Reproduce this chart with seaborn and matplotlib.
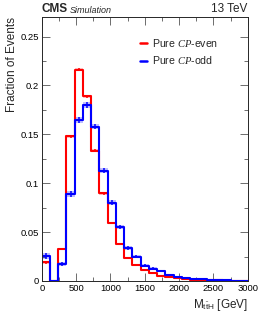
import matplotlib

matplotlib.use("Agg")

import matplotlib.pyplot as plt
import numpy as np
import pandas as pd
import seaborn as sns
from matplotlib.ticker import MultipleLocator

# 25 bins of 120 GeV between 0 and 3000 GeV
bin_edges = np.arange(0, 3001, 120)
bin_centers = 0.5 * (bin_edges[:-1] + bin_edges[1:])

cp_even = [0.019, 0.0, 0.0327, 0.148, 0.216, 0.189, 0.133, 0.0895, 0.0595, 0.0375,
           0.0238, 0.0163, 0.0112, 0.0078, 0.0054, 0.0036, 0.0027, 0.0020, 0.0015,
           0.0011, 0.0008, 0.0006, 0.0004, 0.0003, 0.0002]
cp_odd = [0.026, 0.0, 0.017, 0.0888, 0.165, 0.180, 0.158, 0.113, 0.080, 0.0554,
          0.0337, 0.0250, 0.0156, 0.0126, 0.0105, 0.0058, 0.0041, 0.0030, 0.0024,
          0.0018, 0.0013, 0.0009, 0.0007, 0.0005, 0.0003]
err_even = [0.0015, 0.0, 0.0015, 0.0015, 0.0015, 0.0015, 0.0015, 0.0012, 0.0010, 0.0009,
            0.0008, 0.0007, 0.0006, 0.0005, 0.0004, 0.0004, 0.0003, 0.0003, 0.0002,
            0.0002, 0.0002, 0.0001, 0.0001, 0.0001, 0.0001]
err_odd = [0.003, 0.0, 0.002, 0.003, 0.003, 0.003, 0.003, 0.003, 0.0025, 0.002,
           0.0018, 0.0016, 0.0013, 0.0012, 0.0011, 0.0008, 0.0007, 0.0006, 0.0005,
           0.0004, 0.0004, 0.0003, 0.0003, 0.0002, 0.0002]

series = [
    ("Pure $CP$-even", cp_even, err_even, "#ff0000"),
    ("Pure $CP$-odd", cp_odd, err_odd, "#0000ff"),
]

sns.set_theme(style="ticks")
plt.rcParams["font.family"] = ["Liberation Sans", "DejaVu Sans"]
plt.rcParams["mathtext.fontset"] = "custom"
plt.rcParams["mathtext.rm"] = "Liberation Sans"
plt.rcParams["mathtext.it"] = "Liberation Serif:italic"
plt.rcParams["mathtext.bf"] = "Liberation Sans:bold"

fig = plt.figure(figsize=(2.61, 3.27), dpi=100)
ax = fig.add_axes([0.16, 0.1407, 0.789, 0.8073])

for label, vals, errs, color in series:
    vals = np.asarray(vals)
    errs = np.asarray(errs)
    lo = np.append(vals - errs, vals[-1] - errs[-1])
    hi = np.append(vals + errs, vals[-1] + errs[-1])
    ax.fill_between(bin_edges, lo, hi, step="post", color=color, alpha=0.25, lw=0)
    df = pd.DataFrame({"mass": bin_centers, "frac": vals})
    sns.histplot(data=df, x="mass", weights="frac", binwidth=120, binrange=(0, 3000),
                 element="step", fill=False, color=color, lw=1.5, ax=ax)
    ax.errorbar(bin_centers, vals, yerr=errs, fmt="none", ecolor=color, elinewidth=1.1)

ax.set_xlim(0, 3000)
ax.set_ylim(0, 0.27)
ax.xaxis.set_major_locator(MultipleLocator(500))
ax.xaxis.set_minor_locator(MultipleLocator(250))
ax.yaxis.set_major_locator(MultipleLocator(0.05))
ax.yaxis.set_minor_locator(MultipleLocator(0.025))
ax.set_yticks([0, 0.05, 0.1, 0.15, 0.2, 0.25], ["0", "0.05", "0.1", "0.15", "0.2", "0.25"])
ax.tick_params(which="both", direction="in", top=True, right=True, labelsize=6.8,
               width=0.6, colors="#555555", labelcolor="black", pad=2)
ax.tick_params(which="major", length=6)
ax.tick_params(which="minor", length=3)
for sp in ax.spines.values():
    sp.set_linewidth(0.7)

ax.set_xlabel(r"M$_{\mathrm{t\bar{t}H}}$ [GeV]", fontsize=8.5, loc="right", labelpad=3)
ax.set_ylabel("Fraction of Events", fontsize=8.5, loc="top", labelpad=2)

ax.text(0.0, 1.008, "CMS", transform=ax.transAxes, fontsize=8.5, fontweight="bold",
        ha="left", va="bottom")
ax.text(0.135, 1.008, "Simulation", transform=ax.transAxes, fontsize=6.5, style="italic",
        ha="left", va="bottom")
ax.text(1.0, 1.008, "13 TeV", transform=ax.transAxes, fontsize=8.5, ha="right", va="bottom")

handles = [plt.Line2D([], [], color=c, lw=1.8) for _, _, _, c in series]
ax.legend(handles, [s[0] for s in series], loc="upper right", bbox_to_anchor=(0.875, 0.94),
          frameon=False, fontsize=7.6, handlelength=0.7, handletextpad=0.4,
          labelspacing=0.5, borderaxespad=0)

fig.savefig("out.png", dpi=100)
